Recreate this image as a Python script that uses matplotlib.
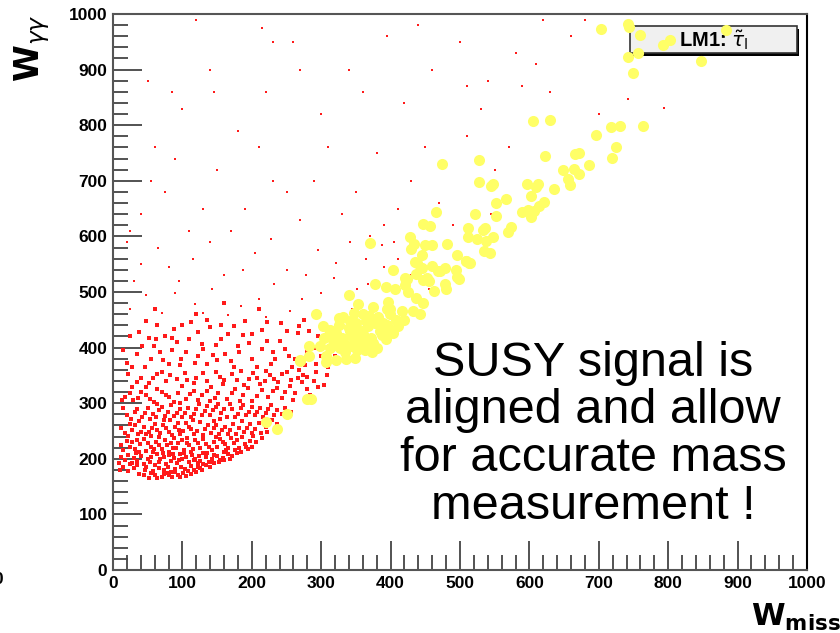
import matplotlib
matplotlib.use("Agg")
import matplotlib.pyplot as plt
from matplotlib.ticker import MultipleLocator
from matplotlib.patches import Rectangle

plt.rcParams['font.family'] = ['Liberation Sans', 'DejaVu Sans']

# ========================
# DATA
# ========================
# background events (red dots), grouped by region
bg_core = [
    (38,172),(52,166),(61,170),(70,168),(78,175),(85,167),(93,171),(101,174),(108,178),(117,180),
    (125,183),(46,180),(57,178),(66,183),(74,179),(89,182),(98,186),(113,187),(130,190),(140,186),
    (22,178),(14,186),(30,184),(8,192),(83,176),(105,169),(120,176),(146,192),(153,194),
    (18,198),(27,192),(35,196),(44,190),(53,195),(60,188),(68,199),(76,191),(84,196),(92,193),
    (100,199),(109,194),(118,200),(126,196),(134,203),(142,199),(150,205),(158,201),(166,208),
    (172,205),(40,205),(63,208),(81,206),(97,209),(114,207),(129,210),(12,204),(33,210),(55,203),
    (72,210),(88,202),(105,204),(122,192),(138,195),(160,212),(178,210),
    (15,215),(24,222),(31,218),(39,226),(47,214),(55,221),(62,230),(70,217),(78,225),(86,219),
    (94,228),(102,216),(110,224),(118,233),(126,219),(134,227),(142,215),(150,222),(158,231),
    (166,219),(174,228),(182,220),(190,226),(198,232),(45,236),(66,239),(88,237),(106,238),
    (130,236),(148,239),(170,237),(194,218),(206,230),(20,232),(112,212),(80,213),
    (17,246),(28,252),(36,244),(44,258),(52,249),(60,262),(68,247),(77,255),(85,243),(93,264),
    (101,250),(109,258),(117,245),(125,266),(133,253),(141,247),(149,260),(157,251),(165,244),
    (173,263),(181,255),(189,248),(197,262),(205,253),(213,246),(221,258),(38,268),(74,269),
    (115,270),(146,268),(186,268),(25,262),(55,241),(95,252),(130,242),(162,258),(210,265),
    (20,278),(31,284),(42,275),(50,292),(58,281),(67,288),(75,277),(84,296),(92,283),(100,276),
    (108,291),(116,281),(124,298),(132,286),(140,279),(148,294),(156,283),(164,276),(172,290),
    (180,281),(188,297),(196,285),(204,278),(212,292),(220,283),(228,296),(236,288),(14,292),
    (63,299),(97,300),(135,295),(168,299),(244,281),(82,270),(154,272),
]
bg_core_fill = [
    (45,170),(55,174),(64,166),(73,172),(81,170),(90,176),(97,168),(112,172),(122,186),(134,188),
    (143,194),(160,197),(168,200),(35,188),(24,190),(48,186),(79,186),(104,181),(128,180),(10,180),
    (21,206),(30,201),(38,212),(50,199),(58,213),(66,195),(74,204),(87,209),(95,197),(103,211),
    (116,197),(124,205),(136,211),(146,207),(154,198),(163,215),(176,216),(184,212),(192,221),
    (200,222),(12,225),(28,230),(35,234),(51,229),(59,218),(67,224),(75,233),(84,228),(91,220),
    (99,234),(107,229),(115,218),(122,228),(138,222),(146,230),(154,236),(162,227),(178,234),
    (186,240),(202,241),(214,237),(222,248),(12,255),(22,241),(32,260),(40,249),(48,244),(56,256),
    (64,252),(72,261),(81,249),(89,258),(97,244),(105,265),(113,253),(121,250),(137,261),(145,255),
    (153,244),(169,251),(177,245),(193,256),(201,246),(217,265),(229,270),(236,262),
    (26,271),(35,290),(46,283),(54,272),(62,276),(71,294),(79,284),(88,277),(96,290),(104,283),
    (112,275),(120,289),(128,279),(144,287),(152,299),(160,289),(176,275),(184,291),(192,279),
    (200,294),(208,285),(216,276),(224,290),(232,279),(248,292),(256,285),
]
bg_mid = [
    (18,312),(29,305),(41,320),(53,308),(64,326),(76,314),(88,303),(99,331),(111,317),(123,306),
    (135,322),(147,310),(159,335),(171,318),(183,304),(195,327),(207,313),(219,340),(231,322),
    (243,309),(255,331),(267,345),(279,326),(35,338),(58,345),(82,350),(106,341),(130,355),
    (154,347),(178,342),(202,355),(226,350),(250,357),(274,350),(22,352),(47,330),(70,356),
    (117,336),(141,329),(189,333),(214,324),(238,338),(262,318),(290,340),
    (13,305),(24,318),(36,309),(47,315),(59,303),(70,320),(81,312),(94,318),(105,308),(117,322),
    (128,315),(140,304),(152,318),(164,308),(176,326),(188,315),(200,304),(212,334),(224,312),
    (236,328),(248,320),(260,306),(272,338),(284,314),(296,330),(308,350),
    (28,330),(40,346),(52,336),(64,352),(76,340),(92,344),(104,354),(120,346),(136,340),(148,356),
    (160,342),(172,352),(184,358),(196,344),(208,346),(220,358),(232,344),(244,352),(256,342),
    (268,360),(280,348),(292,356),(304,332),
    (20,372),(34,388),(46,365),(59,402),(72,378),(85,395),(97,368),(110,415),(123,384),(136,371),
    (149,405),(162,389),(175,366),(188,422),(201,380),(214,397),(227,370),(240,412),(253,385),
    (266,426),(279,392),(292,370),(305,441),(38,428),(63,440),(88,433),(112,446),(140,437),
    (165,425),(190,448),(215,432),(242,445),(268,438),(52,418),(128,406),(180,403),(230,392),
    (258,365),(282,430),(310,365),(98,380),(75,420),(150,378),(320,385),
    (15,395),(28,365),(42,402),(55,380),(68,392),(80,370),(92,410),(105,392),(118,372),(130,398),
    (144,386),(156,416),(170,376),(182,392),(196,408),(208,366),(222,412),(234,380),(248,398),
    (262,380),(276,368),(290,400),(300,385),(25,420),(48,448),(62,415),(85,418),(100,440),
    (122,428),(135,450),(155,440),(175,438),(200,425),(222,446),(250,430),(275,450),(295,420),
    (120,460),(60,470),(210,470),(160,480),
]
bg_sparse = [
    (25,470),(48,495),(70,462),(95,520),(118,478),(142,505),(165,458),(188,540),(210,488),
    (232,515),(255,465),(278,530),(300,498),(322,552),(345,470),(368,515),(390,545),(40,550),
    (65,580),(90,498),(115,560),(140,590),(160,530),(185,475),(205,570),(228,595),(250,540),
    (272,488),(295,575),(318,525),(342,590),(365,560),(388,585),(410,560),(430,530),(455,505),
    (30,520),(130,462),(220,455),(80,545),(300,460),(20,590),(352,505),(405,590),
    (40,640),(75,680),(110,610),(150,720),(190,650),(230,700),(270,630),(310,760),(350,680),
    (390,620),(430,700),(470,660),(510,780),(550,720),(590,870),(630,860),(60,760),(100,830),
    (140,900),(180,790),(220,860),(260,950),(300,820),(340,900),(380,750),(420,840),(460,900),
    (500,950),(540,880),(580,930),(620,990),(680,990),(700,820),(660,960),(25,610),(55,700),
    (90,740),(130,650),(170,610),(210,760),(250,680),(290,700),(330,640),(370,600),(410,650),
    (450,760),(490,620),(530,830),(570,760),(610,910),(215,975),(230,950),(145,860),(85,860),
    (50,880),(120,990),(270,900),(360,860),(440,980),(510,870),(545,640),(395,960),(794,831),
    (742,848),
]

# LM1 signal events (yellow dots)
sig_points = [
    (703,973),(742,982),(743,976),(759,962),(793,944),(802,954),(884,971),(757,929),(742,923),
    (847,915),(749,893),(605,807),(630,809),(717,796),(731,799),(764,799),(696,783),(725,760),
    (719,741),(622,745),(666,749),(672,750),(686,728),(648,719),(664,721),(672,713),(655,703),
    (658,692),(636,686),(474,730),(528,737),(527,698),(545,691),(548,694),(596,694),(609,689),
    (612,695),(603,673),(567,668),(552,660),(621,662),(614,655),(590,643),(598,647),(606,646),
    (602,634),(521,640),(552,636),(574,617),(569,608),(466,643),(447,623),(457,618),(511,616),
    (536,615),(533,612),(512,599),(525,595),(537,592),(548,599),(535,574),(543,570),(428,599),
    (434,586),(429,577),(449,584),(460,585),(481,586),(445,567),(496,567),(509,555),(514,552),
    (438,553),(460,547),(445,544),(478,543),(469,537),(494,540),(436,533),(421,526),(453,526),
    (495,527),(370,589),(508,556),(513,553),(435,554),(444,544),(471,537),(498,523),(404,540),
    (423,524),(446,522),(456,520),(378,514),(394,509),(407,506),(421,512),(425,500),(462,502),
    (480,505),(479,514),(340,494),(436,490),(447,481),(396,482),(399,470),(353,478),(375,473),
    (347,463),(360,460),(369,456),(416,465),(432,465),(443,460),(292,460),(326,453),(332,455),
    (341,447),(399,460),(408,450),(389,444),(303,439),(312,432),(322,426),(341,429),(355,432),
    (367,438),(377,444),(399,432),(403,426),(387,423),(304,417),(317,414),(332,411),(351,414),
    (365,411),(375,408),(283,403),(298,402),(312,399),(327,399),(341,402),(351,396),(363,396),
    (283,385),(307,384),(322,378),(307,375),(336,379),(348,381),(373,392),(269,376),(280,308),
    (286,307),(250,281),(221,267),(236,254),(270,377),(315,425),(330,418),(345,420),(360,425),
    (372,418),(385,430),(395,440),(318,405),(335,392),(358,405),(380,400),(393,415),(410,438),
    (420,450),(325,440),(350,445),(310,420),(340,436),(365,448),(382,455),(395,470),
]

legend_label = r"LM1: $\tilde{\tau}_{\mathrm{l}}$"
note_text = "SUSY signal is\naligned and allow\nfor accurate mass\nmeasurement !"

# ========================
# FIGURE
# ========================
fig = plt.figure(figsize=(8.4, 6.33), dpi=100)
ax = fig.add_axes([113/840, 63/633, 694/840, 556/633])

dense = bg_core + bg_core_fill + bg_mid
ax.scatter([p[0] for p in dense], [p[1] for p in dense], s=6.5, marker='s',
           color='#ff1a1a', linewidths=0, zorder=2)
ax.scatter([p[0] for p in bg_sparse], [p[1] for p in bg_sparse], s=2.5, marker='s',
           color='#ff1a1a', linewidths=0, zorder=2)

sx = [p[0] for p in sig_points]
sy = [p[1] for p in sig_points]
ax.scatter(sx, sy, s=64, marker='o', color='#ffff66', linewidths=0, zorder=4)

ax.set_xlim(0, 1000)
ax.set_ylim(0, 1000)

ax.xaxis.set_major_locator(MultipleLocator(100))
ax.xaxis.set_minor_locator(MultipleLocator(20))
ax.yaxis.set_major_locator(MultipleLocator(100))
ax.yaxis.set_minor_locator(MultipleLocator(20))
ax.tick_params(which='both', direction='in', top=False, right=False, color='#444444', width=1.3)
ax.tick_params(which='major', length=21, pad=4, labelsize=12.5)
ax.tick_params(which='minor', length=11)
for lab in ax.get_xticklabels() + ax.get_yticklabels():
    lab.set_fontweight('bold')

for side in ['left', 'bottom', 'top']:
    ax.spines[side].set_color('#555555')
    ax.spines[side].set_linewidth(1.5)
ax.spines['right'].set_color('black')
ax.spines['right'].set_linewidth(1.5)

# legend box (ROOT style, with shadow)
ax.add_patch(Rectangle((749, 925), 240, 48, facecolor='black', edgecolor='none', zorder=3))
ax.add_patch(Rectangle((745, 930), 240, 48, facecolor='#f0f0f0', edgecolor='#333333',
                       linewidth=1.2, zorder=3))
ax.text(865, 953, legend_label, ha='center', va='center', fontsize=14.5,
        fontweight='bold', zorder=3)

ax.text(692, 243, note_text, ha='center', va='center', fontsize=35,
        linespacing=1.08, zorder=5)

# axis titles
fig.text(0.038, 0.978, r"$\mathbf{W}_{\gamma\gamma}$", rotation=90, ha='center', va='top',
         fontsize=24)
fig.text(0.948, 0.025, r"$\mathbf{W}_{\mathbf{miss}}$", ha='center', va='center', fontsize=22)
fig.text(-0.002, 0.084, "0", fontsize=12.5, fontweight='bold', ha='center', va='center')

plt.savefig("out.png", dpi=100)
plt.close()
